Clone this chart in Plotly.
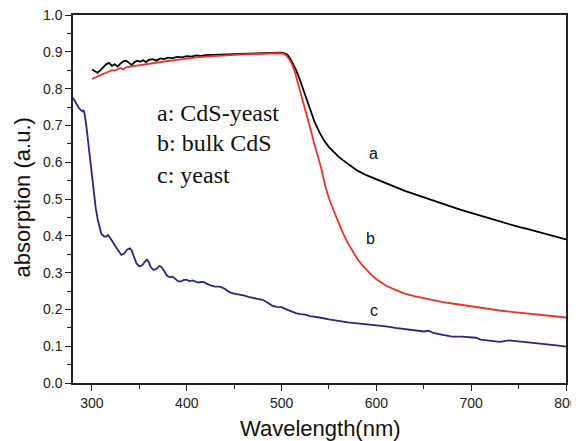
import plotly.graph_objects as go

# Curve a: CdS-yeast (black)
wl_a = [300, 303, 306, 309, 312, 315, 318, 321, 324, 327, 330, 333, 336, 339, 342, 345, 348, 351, 354, 357,
        360, 364, 368, 372, 376, 380, 385, 390, 395, 400, 405, 410, 415, 420, 430, 440, 450, 460, 470, 480,
        490, 495, 500, 503, 506, 509, 512, 515, 519, 523, 527, 531, 535, 540, 545, 550, 555, 560, 565, 570,
        575, 580, 590, 600, 610, 620, 630, 640, 650, 660, 670, 680, 690, 700, 710, 720, 730, 740, 750, 760,
        770, 780, 790, 800]
abs_a = [0.852, 0.848, 0.843, 0.850, 0.858, 0.866, 0.870, 0.862, 0.866, 0.860, 0.868, 0.874, 0.876, 0.870, 0.864, 0.872, 0.876, 0.873, 0.877, 0.872,
         0.878, 0.880, 0.876, 0.882, 0.880, 0.884, 0.883, 0.886, 0.885, 0.888, 0.887, 0.890, 0.889, 0.891, 0.892, 0.893, 0.895, 0.894, 0.896, 0.897,
         0.898, 0.899, 0.898, 0.896, 0.893, 0.882, 0.868, 0.852, 0.826, 0.797, 0.766, 0.736, 0.708, 0.681, 0.658, 0.641, 0.627, 0.615, 0.605, 0.595,
         0.586, 0.577, 0.564, 0.553, 0.542, 0.532, 0.522, 0.513, 0.504, 0.495, 0.487, 0.478, 0.470, 0.462, 0.454, 0.447, 0.440, 0.432, 0.424, 0.418,
         0.411, 0.405, 0.398, 0.390]

# Curve b: bulk CdS (red)
wl_b = [300, 303, 306, 309, 312, 315, 318, 321, 324, 327, 330, 333, 336, 340, 345, 350, 355, 360, 365, 370,
        375, 380, 390, 400, 410, 420, 430, 440, 450, 460, 470, 480, 490, 498, 502, 505, 508, 511, 514, 517,
        520, 523, 526, 530, 534, 538, 542, 546, 550, 555, 560, 565, 570, 575, 580, 585, 590, 595, 600, 610,
        620, 630, 640, 650, 660, 670, 680, 690, 700, 710, 720, 730, 740, 750, 760, 770, 780, 790, 800]
abs_b = [0.826, 0.830, 0.832, 0.836, 0.840, 0.843, 0.846, 0.850, 0.849, 0.853, 0.856, 0.852, 0.858, 0.860, 0.862, 0.864, 0.866, 0.867, 0.870, 0.871,
         0.874, 0.875, 0.878, 0.882, 0.885, 0.887, 0.889, 0.890, 0.892, 0.893, 0.894, 0.895, 0.896, 0.896, 0.895, 0.890, 0.880, 0.866, 0.845, 0.818,
         0.792, 0.764, 0.735, 0.695, 0.655, 0.617, 0.582, 0.535, 0.502, 0.468, 0.436, 0.406, 0.380, 0.357, 0.337, 0.320, 0.305, 0.293, 0.282, 0.265,
         0.253, 0.243, 0.236, 0.230, 0.225, 0.220, 0.216, 0.212, 0.207, 0.203, 0.200, 0.197, 0.194, 0.191, 0.188, 0.186, 0.183, 0.181, 0.178]

# Curve c: yeast (navy)
wl_c = [280, 283, 286, 288, 290, 291, 292, 294, 296, 298, 300, 302, 304, 306, 308, 310, 313, 315, 317, 319,
        322, 325, 328, 331, 334, 337, 340, 342, 344, 347, 350, 353, 356, 358, 360, 362, 365, 368, 371, 373,
        376, 379, 382, 385, 388, 391, 394, 397, 400, 403, 406, 409, 412, 415, 418, 421, 425, 430, 435, 440,
        445, 450, 455, 460, 465, 470, 475, 480, 485, 490, 495, 500, 505, 510, 515, 520, 525, 530, 535, 540,
        550, 560, 570, 580, 590, 600, 610, 620, 630, 640, 650, 655, 660, 670, 680, 690, 700, 705, 710, 720,
        730, 740, 750, 760, 770, 780, 790, 800]
abs_c = [0.775, 0.760, 0.748, 0.742, 0.738, 0.742, 0.735, 0.700, 0.652, 0.600, 0.555, 0.515, 0.475, 0.445, 0.420, 0.405, 0.398, 0.398, 0.402, 0.395,
         0.383, 0.370, 0.358, 0.348, 0.352, 0.362, 0.366, 0.360, 0.345, 0.325, 0.317, 0.320, 0.330, 0.335, 0.328, 0.315, 0.307, 0.310, 0.318, 0.316,
         0.305, 0.292, 0.288, 0.289, 0.283, 0.276, 0.276, 0.280, 0.280, 0.277, 0.279, 0.276, 0.273, 0.275, 0.274, 0.270, 0.265, 0.262, 0.262, 0.256,
         0.247, 0.243, 0.241, 0.238, 0.234, 0.231, 0.229, 0.226, 0.219, 0.210, 0.207, 0.206, 0.200, 0.194, 0.190, 0.187, 0.186, 0.182, 0.181, 0.178,
         0.173, 0.168, 0.165, 0.162, 0.160, 0.158, 0.154, 0.150, 0.147, 0.143, 0.140, 0.142, 0.136, 0.131, 0.126, 0.126, 0.125, 0.123, 0.118, 0.114,
         0.112, 0.116, 0.113, 0.109, 0.107, 0.105, 0.102, 0.099]

x_ticks = [300, 400, 500, 600, 700, 800]
y_ticks = [0.0, 0.1, 0.2, 0.3, 0.4, 0.5, 0.6, 0.7, 0.8, 0.9, 1.0]
legend_lines = ["a: CdS-yeast", "b: bulk CdS", "c: yeast"]
curve_labels = ["a", "b", "c"]

fig = go.Figure()
fig.add_trace(go.Scatter(x=wl_a, y=abs_a, mode="lines", line=dict(color="#000000", width=1.8), name="a"))
fig.add_trace(go.Scatter(x=wl_b, y=abs_b, mode="lines", line=dict(color="#f0302c", width=1.8), name="b"))
fig.add_trace(go.Scatter(x=wl_c, y=abs_c, mode="lines", line=dict(color="#28287e", width=1.8), name="c"))

axis_common = dict(showline=True, linecolor="#222", linewidth=1.5, mirror=True, ticks="outside",
                   ticklen=6, tickwidth=1.3, tickcolor="#222", showgrid=False, zeroline=False,
                   tickfont=dict(family="Arial, Liberation Sans", size=14, color="#222"),
                   ticklabeloverflow="allow", automargin=False)

fig.update_xaxes(range=[280, 800], tickvals=x_ticks,
                 minor=dict(dtick=50, tick0=300, ticks="outside", ticklen=4, tickwidth=1.2, tickcolor="#222"),
                 **axis_common)
fig.update_yaxes(range=[0, 1.0], tickvals=y_ticks, tickformat=".1f",
                 minor=dict(dtick=0.05, tick0=0, ticks="outside", ticklen=4, tickwidth=1.2, tickcolor="#222"),
                 **axis_common)

annotations = []
for i, txt in enumerate(legend_lines):
    annotations.append(dict(x=366, y=[0.734, 0.652, 0.566][i], xref="x", yref="y", text=txt,
                            showarrow=False, xanchor="left", yanchor="middle",
                            font=dict(family="Liberation Serif, Times New Roman, serif", size=24, color="#111")))
for lab, xx, yy in zip(curve_labels, [597, 594, 597], [0.625, 0.392, 0.198]):
    annotations.append(dict(x=xx, y=yy, xref="x", yref="y", text=lab, showarrow=False,
                            font=dict(family="Arial, Liberation Sans", size=16, color="#111")))
annotations.append(dict(x=0.502, y=-0.123, xref="paper", yref="paper", text="Wavelength(nm)",
                        showarrow=False, xanchor="center", yanchor="middle",
                        font=dict(family="Arial, Liberation Sans", size=22, color="#111")))
annotations.append(dict(x=-0.103, y=0.505, xref="paper", yref="paper", text="absorption (a.u.)",
                        showarrow=False, xanchor="center", yanchor="middle", textangle=-90,
                        font=dict(family="Arial, Liberation Sans", size=22, color="#111")))

# page body adds an 8px offset, so the figure is 8px smaller and margins shifted
fig.update_layout(width=571, height=433, margin=dict(l=65, r=13, t=7, b=58),
                  paper_bgcolor="white", plot_bgcolor="white", showlegend=False,
                  annotations=annotations, template="none")

fig.write_html("out.html")
